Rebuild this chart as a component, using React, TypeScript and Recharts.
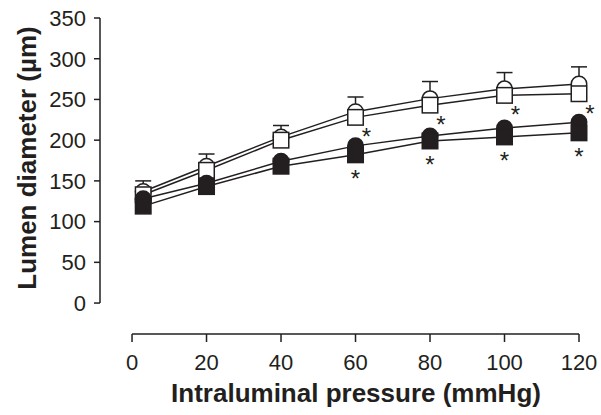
import React from 'react';
import { ScatterChart, Scatter, XAxis, YAxis, ErrorBar, ReferenceLine, Label } from 'recharts';

const pressure = [3, 20, 40, 60, 80, 100, 120];
const openCircle = [137, 168, 204, 235, 251, 263, 269];
const openCircleErr = [13, 15, 14, 18, 21, 20, 21];
const openSquare = [133, 163, 200, 228, 243, 255, 257];
const filledCircle = [128, 147, 174, 193, 205, 215, 222];
const filledSquare = [119, 143, 168, 182, 199, 204, 209];
const openSig = [false, false, false, true, true, true, true];
const filledSig = [false, false, false, true, true, true, true];
const xTicks = [0, 20, 40, 60, 80, 100, 120];
const yTicks = [0, 50, 100, 150, 200, 250, 300, 350];

const ink = '#231f20';
const font = 'Liberation Sans, Arial, sans-serif';
const half = 7.75;

const toPoints = (ys: number[], extra?: (i: number) => object) =>
  pressure.map((x, i) => ({ x, y: ys[i], ...(extra ? extra(i) : {}) }));

const openCircleData = toPoints(openCircle, (i) => ({ err: [0, openCircleErr[i]] }));
const openSquareData = toPoints(openSquare, (i) => ({ sig: openSig[i] }));
const filledCircleData = toPoints(filledCircle);
const filledSquareData = toPoints(filledSquare, (i) => ({ sig: filledSig[i] }));

const Star = ({ x, y }: { x: number; y: number }) => (
  <text x={x} y={y + 13} textAnchor="middle" fontSize={24} fontFamily={font} fill={ink}>*</text>
);

const circleShape = (fill: string) => (props: any) => (
  <circle cx={props.cx} cy={props.cy} r={half} fill={fill} stroke={ink} strokeWidth={1.5} />
);

const squareShape = (fill: string, dx: number, dy: number) => (props: any) => (
  <g>
    <rect x={props.cx - half} y={props.cy - half} width={half * 2} height={half * 2}
      fill={fill} stroke={ink} strokeWidth={1.5} />
    {props.payload && props.payload.sig ? <Star x={props.cx + dx} y={props.cy + dy} /> : null}
  </g>
);

const lineStyle = { stroke: ink, strokeWidth: 1.5 };

export default function App() {
  return (
    <div style={{ position: 'absolute', left: 0, top: 0, background: '#fff' }}>
      <ScatterChart width={601} height={415} margin={{ top: 18, right: 22, bottom: 0, left: 0 }}>
        <XAxis
          type="number"
          dataKey="x"
          domain={[-8.6, 120]}
          ticks={xTicks}
          interval={0}
          axisLine={false}
          tickSize={8}
          tickMargin={12}
          height={81}
          tickLine={{ stroke: ink, strokeWidth: 1.5 }}
          tick={{ fontSize: 22, fill: ink, fontFamily: font }}
        >
          <Label
            content={() => (
              <text x={356} y={402} textAnchor="middle" fontSize={26} fontWeight="bold" fontFamily={font} fill={ink}>
                Intraluminal pressure (mmHg)
              </text>
            )}
          />
        </XAxis>
        <YAxis
          type="number"
          dataKey="y"
          domain={[-38, 350]}
          ticks={yTicks}
          interval={0}
          width={100}
          axisLine={false}
          tickSize={6}
          tickMargin={8}
          tickLine={{ stroke: ink, strokeWidth: 1.5 }}
          tick={{ fontSize: 22, fill: ink, fontFamily: font }}
        >
          <Label
            content={() => (
              <text x={36} y={158} transform="rotate(-90 36 158)" textAnchor="middle" fontSize={26}
                fontWeight="bold" fontFamily={font} fill={ink}>
                Lumen diameter (µm)
              </text>
            )}
          />
        </YAxis>
        <ReferenceLine segment={[{ x: -8.6, y: 0 }, { x: -8.6, y: 350 }]} ifOverflow="visible" stroke={ink} strokeWidth={1.5} />
        <ReferenceLine segment={[{ x: 0, y: -38 }, { x: 120, y: -38 }]} ifOverflow="visible" stroke={ink} strokeWidth={1.5} />
        <Scatter data={openCircleData} line={lineStyle} shape={circleShape('#fff')} isAnimationActive={false}>
          <ErrorBar dataKey="err" direction="y" width={8} stroke={ink} strokeWidth={1.5} isAnimationActive={false} />
        </Scatter>
        <Scatter data={openSquareData} line={lineStyle} shape={squareShape('#fff', 11, 15)} isAnimationActive={false} />
        <Scatter data={filledCircleData} line={lineStyle} shape={circleShape(ink)} isAnimationActive={false} />
        <Scatter data={filledSquareData} line={lineStyle} shape={squareShape(ink, 0, 19)} isAnimationActive={false} />
      </ScatterChart>
    </div>
  );
}
